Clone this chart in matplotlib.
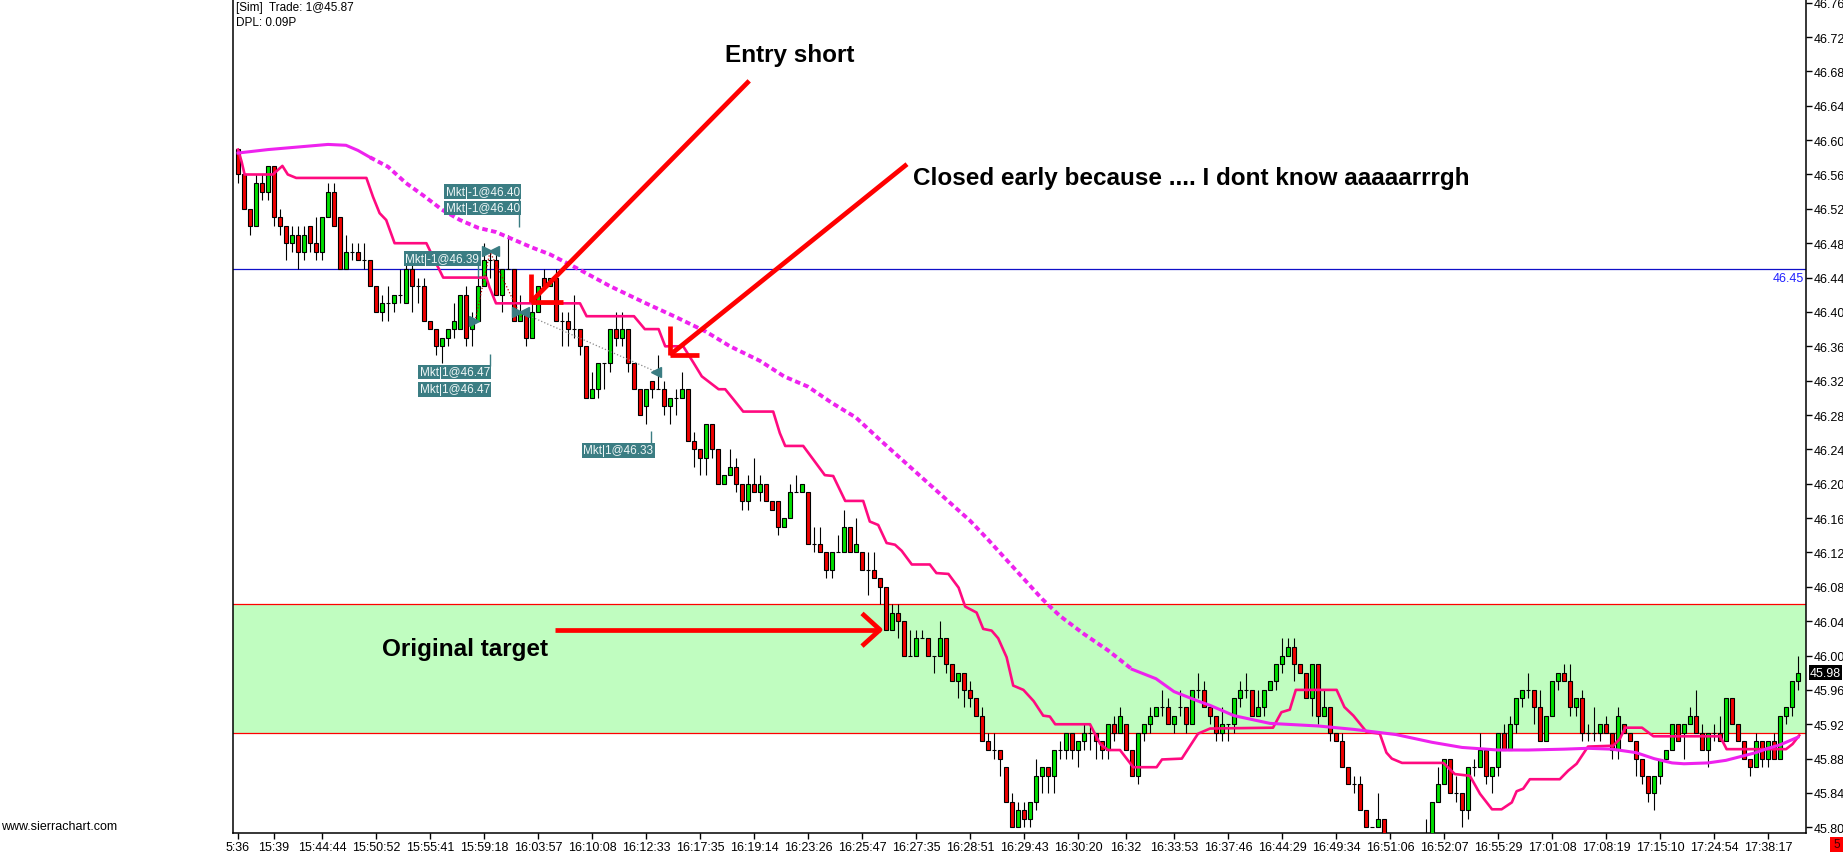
import numpy as np
import matplotlib
matplotlib.use("Agg")
import matplotlib.pyplot as plt
from matplotlib import transforms
from matplotlib.patches import Rectangle

plt.rcParams['font.family'] = ['Liberation Sans', 'DejaVu Sans']

# OHLC per bar (range-style bars, index = bar number)
opens = [
    46.59, 46.56, 46.52, 46.50, 46.55, 46.54, 46.57, 46.51, 46.50, 46.48,
    46.49, 46.47, 46.50, 46.48, 46.47, 46.51, 46.54, 46.51, 46.45, 46.47,
    46.47, 46.46, 46.46, 46.43, 46.40, 46.41, 46.41, 46.42, 46.41, 46.45,
    46.43, 46.43, 46.39, 46.38, 46.36, 46.37, 46.38, 46.38, 46.42, 46.38,
    46.39, 46.43, 46.46, 46.46, 46.42, 46.45, 46.45, 46.39, 46.40, 46.37,
    46.40, 46.44, 46.43, 46.44, 46.39, 46.39, 46.38, 46.38, 46.36, 46.30,
    46.31, 46.34, 46.34, 46.38, 46.37, 46.38, 46.34, 46.31, 46.29, 46.32,
    46.31, 46.31, 46.29, 46.30, 46.30, 46.31, 46.25, 46.24, 46.23, 46.27,
    46.24, 46.20, 46.21, 46.22, 46.20, 46.18, 46.20, 46.19, 46.20, 46.18,
    46.18, 46.15, 46.16, 46.19, 46.19, 46.19, 46.13, 46.13, 46.12, 46.10,
    46.12, 46.12, 46.15, 46.12, 46.12, 46.10, 46.10, 46.09, 46.08, 46.03,
    46.05, 46.04, 46.00, 46.00, 46.02, 46.02, 46.00, 46.00, 46.02, 45.99,
    45.97, 45.98, 45.96, 45.95, 45.93, 45.90, 45.89, 45.89, 45.87, 45.83,
    45.80, 45.82, 45.81, 45.83, 45.86, 45.87, 45.86, 45.89, 45.89, 45.91,
    45.89, 45.90, 45.91, 45.91, 45.90, 45.89, 45.92, 45.91, 45.92, 45.89,
    45.86, 45.91, 45.92, 45.93, 45.94, 45.94, 45.92, 45.94, 45.94, 45.92,
    45.96, 45.96, 45.94, 45.93, 45.91, 45.92, 45.92, 45.95, 45.96, 45.96,
    45.93, 45.94, 45.96, 45.97, 45.99, 46.00, 46.01, 45.99, 45.98, 45.95,
    45.99, 45.93, 45.94, 45.91, 45.90, 45.87, 45.85, 45.85, 45.82, 45.80,
    45.80, 45.81, 45.78, 45.76, 45.75, 45.76, 45.75, 45.77, 45.76, 45.78,
    45.83, 45.85, 45.88, 45.84, 45.84, 45.82, 45.87, 45.87, 45.89, 45.86,
    45.87, 45.91, 45.89, 45.92, 45.95, 45.96, 45.96, 45.94, 45.90, 45.93,
    45.97, 45.98, 45.97, 45.94, 45.95, 45.91, 45.91, 45.91, 45.92, 45.91,
    45.89, 45.92, 45.91, 45.90, 45.88, 45.86, 45.84, 45.86, 45.88, 45.89,
    45.92, 45.91, 45.92, 45.93, 45.91, 45.89, 45.91, 45.91, 45.90, 45.95,
    45.92, 45.90, 45.88, 45.87, 45.90, 45.88, 45.90, 45.88, 45.93, 45.94,
    45.97,
]
highs = [
    46.59, 46.56, 46.52, 46.56, 46.56, 46.57, 46.57, 46.52, 46.50, 46.50,
    46.50, 46.50, 46.50, 46.51, 46.51, 46.55, 46.55, 46.51, 46.49, 46.48,
    46.48, 46.48, 46.46, 46.43, 46.42, 46.43, 46.42, 46.45, 46.46, 46.46,
    46.44, 46.44, 46.39, 46.38, 46.37, 46.38, 46.41, 46.42, 46.43, 46.40,
    46.44, 46.48, 46.47, 46.47, 46.45, 46.49, 46.45, 46.42, 46.40, 46.42,
    46.43, 46.45, 46.44, 46.45, 46.40, 46.40, 46.42, 46.38, 46.36, 46.33,
    46.34, 46.34, 46.38, 46.40, 46.40, 46.38, 46.34, 46.31, 46.31, 46.32,
    46.35, 46.32, 46.30, 46.31, 46.33, 46.31, 46.26, 46.24, 46.27, 46.27,
    46.24, 46.21, 46.24, 46.23, 46.20, 46.21, 46.23, 46.21, 46.20, 46.18,
    46.18, 46.16, 46.20, 46.21, 46.20, 46.19, 46.15, 46.15, 46.12, 46.12,
    46.14, 46.17, 46.15, 46.16, 46.12, 46.12, 46.12, 46.09, 46.08, 46.06,
    46.06, 46.04, 46.03, 46.03, 46.03, 46.02, 46.00, 46.04, 46.02, 45.99,
    45.98, 45.98, 45.97, 45.95, 45.94, 45.91, 45.91, 45.89, 45.87, 45.84,
    45.83, 45.83, 45.83, 45.88, 45.87, 45.87, 45.89, 45.90, 45.91, 45.91,
    45.90, 45.92, 45.92, 45.91, 45.90, 45.92, 45.93, 45.94, 45.92, 45.89,
    45.91, 45.92, 45.94, 45.94, 45.96, 45.95, 45.93, 45.96, 45.94, 45.96,
    45.98, 45.97, 45.94, 45.93, 45.94, 45.92, 45.95, 45.97, 45.98, 45.96,
    45.96, 45.96, 45.97, 45.99, 46.02, 46.02, 46.02, 45.99, 45.98, 45.99,
    45.99, 45.96, 45.94, 45.91, 45.91, 45.87, 45.86, 45.86, 45.82, 45.80,
    45.84, 45.81, 45.78, 45.77, 45.77, 45.77, 45.77, 45.78, 45.81, 45.83,
    45.87, 45.88, 45.88, 45.86, 45.84, 45.87, 45.88, 45.91, 45.89, 45.87,
    45.91, 45.92, 45.93, 45.95, 45.96, 45.98, 45.96, 45.96, 45.93, 45.97,
    45.98, 45.99, 45.99, 45.95, 45.96, 45.92, 45.94, 45.92, 45.93, 45.91,
    45.94, 45.92, 45.91, 45.90, 45.88, 45.86, 45.86, 45.88, 45.89, 45.92,
    45.92, 45.92, 45.94, 45.96, 45.92, 45.91, 45.92, 45.93, 45.95, 45.95,
    45.92, 45.90, 45.88, 45.91, 45.90, 45.90, 45.91, 45.93, 45.94, 45.97,
    46.00,
]
lows = [
    46.55, 46.52, 46.49, 46.50, 46.53, 46.53, 46.50, 46.49, 46.46, 46.47,
    46.45, 46.46, 46.47, 46.46, 46.46, 46.51, 46.50, 46.45, 46.45, 46.46,
    46.46, 46.45, 46.43, 46.40, 46.39, 46.39, 46.40, 46.41, 46.41, 46.40,
    46.41, 46.39, 46.38, 46.35, 46.34, 46.36, 46.37, 46.38, 46.36, 46.36,
    46.39, 46.43, 46.44, 46.42, 46.40, 46.45, 46.39, 46.39, 46.36, 46.37,
    46.40, 46.43, 46.43, 46.39, 46.36, 46.36, 46.37, 46.35, 46.30, 46.30,
    46.30, 46.31, 46.33, 46.36, 46.36, 46.33, 46.31, 46.28, 46.27, 46.30,
    46.31, 46.28, 46.27, 46.28, 46.30, 46.25, 46.22, 46.21, 46.21, 46.23,
    46.20, 46.20, 46.21, 46.19, 46.17, 46.17, 46.19, 46.18, 46.18, 46.17,
    46.14, 46.15, 46.16, 46.19, 46.19, 46.13, 46.12, 46.12, 46.09, 46.09,
    46.12, 46.12, 46.12, 46.12, 46.10, 46.07, 46.09, 46.06, 46.03, 46.03,
    46.02, 46.00, 46.00, 46.00, 46.02, 46.00, 45.98, 46.00, 45.98, 45.97,
    45.95, 45.94, 45.94, 45.93, 45.90, 45.89, 45.88, 45.86, 45.83, 45.80,
    45.80, 45.80, 45.80, 45.82, 45.84, 45.84, 45.84, 45.88, 45.88, 45.88,
    45.87, 45.89, 45.89, 45.88, 45.88, 45.88, 45.90, 45.91, 45.89, 45.86,
    45.85, 45.90, 45.91, 45.93, 45.93, 45.92, 45.91, 45.93, 45.91, 45.92,
    45.95, 45.94, 45.92, 45.90, 45.90, 45.90, 45.91, 45.94, 45.95, 45.93,
    45.93, 45.93, 45.96, 45.96, 45.98, 46.00, 45.97, 45.98, 45.95, 45.93,
    45.92, 45.93, 45.90, 45.90, 45.87, 45.85, 45.84, 45.82, 45.80, 45.80,
    45.80, 45.77, 45.75, 45.74, 45.74, 45.74, 45.74, 45.75, 45.75, 45.77,
    45.83, 45.85, 45.84, 45.83, 45.80, 45.81, 45.86, 45.87, 45.85, 45.84,
    45.86, 45.89, 45.89, 45.91, 45.94, 45.95, 45.92, 45.90, 45.90, 45.93,
    45.96, 45.97, 45.93, 45.93, 45.90, 45.90, 45.90, 45.90, 45.91, 45.88,
    45.88, 45.91, 45.90, 45.86, 45.85, 45.83, 45.82, 45.85, 45.88, 45.89,
    45.90, 45.88, 45.92, 45.91, 45.89, 45.87, 45.90, 45.90, 45.90, 45.92,
    45.90, 45.88, 45.86, 45.87, 45.87, 45.87, 45.88, 45.88, 45.92, 45.93,
    45.96,
]
closes = [
    46.56, 46.52, 46.50, 46.55, 46.54, 46.57, 46.51, 46.50, 46.48, 46.49,
    46.47, 46.49, 46.48, 46.47, 46.51, 46.54, 46.50, 46.45, 46.47, 46.47,
    46.46, 46.46, 46.43, 46.40, 46.41, 46.41, 46.42, 46.42, 46.45, 46.43,
    46.43, 46.39, 46.38, 46.36, 46.37, 46.38, 46.39, 46.42, 46.37, 46.39,
    46.43, 46.46, 46.46, 46.42, 46.45, 46.45, 46.39, 46.40, 46.37, 46.40,
    46.43, 46.43, 46.44, 46.39, 46.39, 46.38, 46.38, 46.36, 46.30, 46.31,
    46.34, 46.34, 46.38, 46.37, 46.38, 46.34, 46.31, 46.28, 46.31, 46.31,
    46.31, 46.29, 46.30, 46.30, 46.31, 46.25, 46.24, 46.23, 46.27, 46.24,
    46.20, 46.21, 46.22, 46.20, 46.18, 46.20, 46.19, 46.20, 46.18, 46.17,
    46.15, 46.16, 46.19, 46.19, 46.20, 46.13, 46.13, 46.12, 46.10, 46.12,
    46.12, 46.15, 46.12, 46.13, 46.10, 46.10, 46.09, 46.08, 46.03, 46.05,
    46.04, 46.00, 46.00, 46.02, 46.02, 46.00, 46.00, 46.02, 45.99, 45.97,
    45.98, 45.96, 45.95, 45.93, 45.90, 45.89, 45.89, 45.88, 45.83, 45.80,
    45.82, 45.81, 45.83, 45.86, 45.87, 45.86, 45.89, 45.89, 45.91, 45.89,
    45.90, 45.91, 45.91, 45.90, 45.89, 45.92, 45.91, 45.93, 45.89, 45.86,
    45.91, 45.92, 45.93, 45.94, 45.94, 45.92, 45.93, 45.94, 45.92, 45.96,
    45.96, 45.94, 45.93, 45.91, 45.92, 45.92, 45.95, 45.96, 45.96, 45.93,
    45.94, 45.96, 45.97, 45.99, 46.00, 46.01, 45.99, 45.98, 45.95, 45.99,
    45.93, 45.94, 45.91, 45.90, 45.87, 45.85, 45.85, 45.82, 45.80, 45.80,
    45.81, 45.78, 45.76, 45.75, 45.76, 45.75, 45.77, 45.76, 45.78, 45.83,
    45.85, 45.88, 45.84, 45.84, 45.82, 45.87, 45.87, 45.89, 45.86, 45.87,
    45.91, 45.89, 45.92, 45.95, 45.96, 45.96, 45.94, 45.90, 45.93, 45.97,
    45.98, 45.97, 45.94, 45.95, 45.91, 45.91, 45.91, 45.92, 45.91, 45.89,
    45.93, 45.91, 45.90, 45.88, 45.86, 45.84, 45.86, 45.88, 45.89, 45.92,
    45.90, 45.92, 45.93, 45.91, 45.89, 45.91, 45.91, 45.90, 45.95, 45.92,
    45.90, 45.88, 45.87, 45.90, 45.88, 45.90, 45.88, 45.93, 45.94, 45.97,
    45.98,
]
assert len(opens) == len(highs) == len(lows) == len(closes) == 261

tick_bars = [0, 6, 14, 23, 32, 41, 50, 59, 68, 77, 86, 95, 104, 113, 122,
             131, 140, 148, 156, 165, 174, 183, 192, 201, 210, 219, 228, 237, 246, 255]
tick_labels = ["5:36", "15:39", "15:44:44", "15:50:52", "15:55:41", "15:59:18",
               "16:03:57", "16:10:08", "16:12:33", "16:17:35", "16:19:14", "16:23:26",
               "16:25:47", "16:27:35", "16:28:51", "16:29:43", "16:30:20", "16:32",
               "16:33:53", "16:37:46", "16:44:29", "16:49:34", "16:51:06", "16:52:07",
               "16:55:29", "17:01:08", "17:08:19", "17:15:10", "17:24:54", "17:38:17"]

# slow moving average (magenta), read at key bars
ma_bars = [0, 5, 10, 15, 18, 20, 22, 25, 28, 31, 34, 37, 40, 43, 46, 49, 52, 57, 62,
           68, 73, 78, 82, 87, 91, 95, 99, 103, 107, 118, 122, 125, 128, 131, 134,
           137, 141, 145, 149, 153, 156, 160, 162, 166, 172, 180, 186, 193, 199, 204,
           210, 215, 221, 225, 229, 233, 236, 239, 241, 245, 248, 253, 255, 257, 260]
ma_vals = [46.585, 46.589, 46.592, 46.595, 46.594, 46.588, 46.580, 46.569, 46.550,
           46.535, 46.519, 46.507, 46.498, 46.493, 46.484, 46.475, 46.467, 46.449,
           46.430, 46.410, 46.394, 46.377, 46.360, 46.343, 46.325, 46.313, 46.294,
           46.277, 46.251, 46.182, 46.157, 46.135, 46.112, 46.089, 46.066, 46.046,
           46.025, 46.006, 45.984, 45.973, 45.958, 45.947, 45.942, 45.930, 45.921,
           45.918, 45.914, 45.908, 45.899, 45.893, 45.890, 45.890, 45.891, 45.892,
           45.891, 45.887, 45.880, 45.875, 45.874, 45.875, 45.878, 45.887, 45.892,
           45.896, 45.905]

# trailing line (pink), read at its corners
trail_bars = [0, 0.6, 1.1, 5.8, 7.4, 8.3, 9.7, 21.4, 22.5, 23.6, 24.7, 26.1, 31.4, 32.5,
              34.2, 41.4, 41.9, 43, 57, 58.1, 66, 67.8, 70.1, 71.2, 74.2, 75.9, 77.3,
              80.1, 81.2, 82.6, 84.2, 89.2, 90.3, 91.2, 94.2, 95.9, 97.8, 99.2, 101.2,
              104.2, 105.3, 106.7, 108.1, 109.5, 110.6, 112.3, 115.3, 116.4, 118.4,
              120.1, 121.2, 123.1, 124.2, 125.6, 126.7, 128.1, 129.2, 130.9, 132.6,
              134.2, 135.3, 136.2, 142, 143.7, 145, 147, 149.2, 153.1, 154, 157.3, 160,
              162, 172.5, 173.9, 175.3, 176.3, 183.1, 184.4, 185.9, 188.1, 190.3, 191.4,
              192.3, 194, 200.9, 202.8, 205.3, 207, 209, 210.6, 212.3, 213.1, 214.2,
              215.3, 220.3, 221.7, 223.1, 225, 229.2, 230.3, 231.2, 234, 235.9, 247,
              248.1, 258, 259.1, 260.2]
trail_vals = [46.589, 46.575, 46.560, 46.560, 46.570, 46.560, 46.556, 46.556, 46.534,
              46.515, 46.507, 46.480, 46.480, 46.464, 46.440, 46.440, 46.429, 46.410,
              46.410, 46.395, 46.395, 46.380, 46.380, 46.360, 46.360, 46.341, 46.325,
              46.310, 46.310, 46.298, 46.284, 46.284, 46.259, 46.244, 46.244, 46.228,
              46.210, 46.209, 46.180, 46.180, 46.156, 46.152, 46.131, 46.129, 46.122,
              46.106, 46.106, 46.096, 46.095, 46.079, 46.057, 46.050, 46.031, 46.029,
              46.020, 45.998, 45.965, 45.960, 45.947, 45.930, 45.929, 45.920, 45.920,
              45.897, 45.890, 45.890, 45.870, 45.870, 45.879, 45.880, 45.909, 45.915,
              45.916, 45.934, 45.937, 45.960, 45.960, 45.940, 45.930, 45.911, 45.909,
              45.887, 45.880, 45.875, 45.875, 45.862, 45.860, 45.839, 45.821, 45.821,
              45.829, 45.842, 45.845, 45.856, 45.856, 45.866, 45.874, 45.894, 45.895,
              45.903, 45.916, 45.916, 45.906, 45.906, 45.891, 45.891, 45.897, 45.907]

level_line = 46.45
zone_low, zone_high = 45.91, 46.06
last_price = 45.98

# trade labels: (text, right-edge bar, price)
order_labels = [("Mkt|-1@46.40", 47.0, 46.540), ("Mkt|-1@46.40", 47.0, 46.521),
                ("Mkt|-1@46.39", 40.2, 46.462), ("Mkt|1@46.47", 42.0, 46.330),
                ("Mkt|1@46.47", 42.0, 46.310), ("Mkt|1@46.33", 69.2, 46.239)]

W, H = 1843, 854
fig = plt.figure(figsize=(W / 100, H / 100), dpi=100)
ax = fig.add_axes([233 / W, 20 / H, 1573 / W, 834 / H])
ax.set_xlim(-0.833, 261.33)
ax.set_ylim(45.7934, 46.7643)

o = np.array(opens)
h = np.array(highs)
l = np.array(lows)
c = np.array(closes)
x = np.arange(len(o))

# target zone
ax.axhspan(zone_low, zone_high, color='#c0fdc0', zorder=0, lw=0)
ax.axhline(zone_low, color='#ff0000', lw=0.9, zorder=1)
ax.axhline(zone_high, color='#ff0000', lw=0.9, zorder=1)
ax.axhline(level_line, color='#1010c8', lw=0.9, zorder=1)

# candles
ax.vlines(x, l, h, color='black', lw=0.8, zorder=3)
cols = np.where(c > o, '#00e000', '#f00000')
ax.bar(x, c - o, bottom=o, width=0.68, color=cols, edgecolor='black', lw=0.8, zorder=3)

# studies
ax.plot(trail_bars, trail_vals, color='#ff0a80', lw=1.9, zorder=4)
ma_b = np.array(ma_bars)
ma_v = np.array(ma_vals)
flat1 = ma_b <= 22
mid = (ma_b >= 22) & (ma_b <= 149)
flat2 = ma_b >= 149
ax.plot(ma_b[flat1], ma_v[flat1], color='#ee22ee', lw=2.2, zorder=4)
ax.plot(ma_b[mid], ma_v[mid], color='#ee22ee', lw=2.8, zorder=4, ls=(0, (1.4, 0.9)))
ax.plot(ma_b[flat2], ma_v[flat2], color='#ee22ee', lw=2.2, zorder=4)

# trade markers
teal = '#3b7d83'
ax.plot([39.5, 42.0, 47.2], [46.389, 46.470, 46.394], color='#c00000', lw=0.9, ls=':', zorder=5)
ax.plot([48.0, 69.8], [46.397, 46.330], color='#888888', lw=0.9, ls=':', zorder=5)
for bx, py in [(42.1, 46.471), (47.1, 46.400)]:
    ax.plot([bx - 0.55], [py], marker='>', ms=7, color=teal, zorder=6, ls='none')
    ax.plot([bx + 0.55], [py], marker='<', ms=7, color=teal, zorder=6, ls='none')
ax.plot([39.3], [46.390], marker='>', ms=7, color=teal, zorder=6, ls='none')
ax.plot([69.7], [46.330], marker='<', ms=7, color=teal, zorder=6, ls='none')
ax.vlines([46.8, 40.0, 42.0, 68.8], [46.499, 46.441, 46.337, 46.246],
          [46.533, 46.455, 46.351, 46.261], color=teal, lw=1, zorder=5)
for txt, bx, py in order_labels:
    ax.text(bx, py, txt, ha='right', va='center', fontsize=8.5, color='#eef6f6', zorder=7,
            bbox=dict(boxstyle='square,pad=0.12', fc=teal, ec='none'))

# hand drawn arrows
red = '#ff0000'
akw = dict(color=red, lw=3.4, zorder=8, solid_capstyle='butt', clip_on=False)
ax.plot([48.8, 85.2], [46.4115, 46.669], **akw)
ax.plot([48.8, 48.8], [46.4115, 46.444], **akw)
ax.plot([48.8, 54.1], [46.4115, 46.4115], **akw)
ax.plot([72.0, 111.5], [46.350, 46.572], **akw)
ax.plot([72.0, 72.0], [46.350, 46.384], **akw)
ax.plot([72.0, 76.8], [46.350, 46.350], **akw)
ax.plot([52.8, 107.0], [46.030, 46.030], **akw)
ax.plot([104.0, 107.0, 104.0], [46.049, 46.030, 46.011], **akw)

bold = dict(fontsize=17.5, fontweight='bold', color='black', va='center', zorder=9)
ax.text(81.2, 46.700, "Entry short", **bold)
ax.text(112.5, 46.556, "Closed early because .... I dont know aaaaarrrgh", **bold)
ax.text(24.0, 46.008, "Original target", **bold)

# axes styling
ax.spines['top'].set_visible(False)
for s in ['left', 'right', 'bottom']:
    ax.spines[s].set_linewidth(1.1)
ax.yaxis.tick_right()
ax.set_yticks(np.round(np.arange(45.80, 46.77, 0.04), 2))
ax.yaxis.set_major_formatter(matplotlib.ticker.FormatStrFormatter('%.2f'))
ax.tick_params(axis='y', direction='out', length=4, width=1, labelsize=9, pad=1.5)
ax.set_xticks(tick_bars)
ax.set_xticklabels(tick_labels)
ax.tick_params(axis='x', direction='out', length=4, width=1, labelsize=9, pad=1.5)

trans = transforms.blended_transform_factory(ax.transAxes, ax.transData)
ax.text(0.9985, level_line - 0.003, "46.45", transform=trans, ha='right', va='top',
        fontsize=9, color='#2020ff')
ax.text(1.0025, last_price, "45.98", transform=trans, ha='left', va='center', fontsize=9,
        color='white', bbox=dict(boxstyle='square,pad=0.1', fc='black', ec='none'), zorder=10)

fig.text(236 / W, 1 - 8 / H, "[Sim]  Trade: 1@45.87", fontsize=8.5, va='center', ha='left')
fig.text(236 / W, 1 - 23 / H, "DPL: 0.09P", fontsize=8.5, va='center', ha='left')
fig.text(1 / W, 1 - 827 / H, "www.sierrachart.com", fontsize=9, va='center', ha='left')
fig.patches.append(Rectangle((1830 / W, 1 - 853 / H), 13 / W, 15 / H, transform=fig.transFigure,
                             fc='#ff0000', ec='none'))
fig.text(1836.5 / W, 1 - 845 / H, "5", fontsize=8.5, va='center', ha='center', color='#400000')

fig.savefig("out.png", dpi=100)
